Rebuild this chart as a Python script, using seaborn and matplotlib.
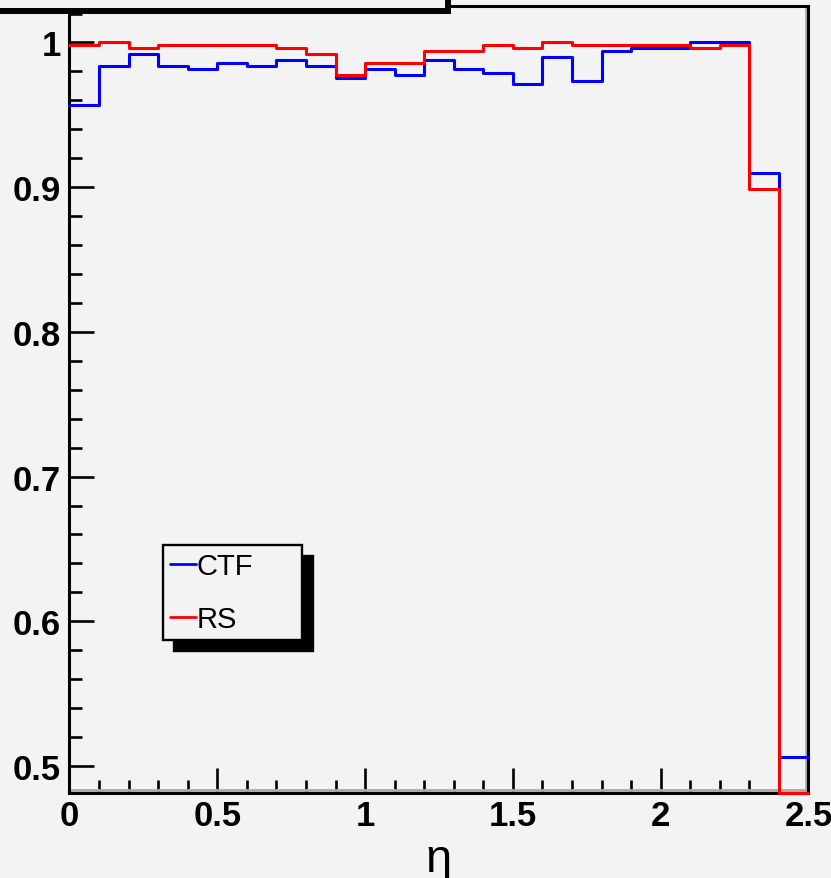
import matplotlib
matplotlib.use("Agg")
import matplotlib.pyplot as plt
import matplotlib.ticker as mticker
from matplotlib.patches import Rectangle
import numpy as np
import pandas as pd
import seaborn as sns

# efficiency vs eta, 25 bins of 0.1 from 0 to 2.5
bin_edges = [0.0, 0.1, 0.2, 0.3, 0.4, 0.5, 0.6, 0.7, 0.8, 0.9, 1.0, 1.1, 1.2,
             1.3, 1.4, 1.5, 1.6, 1.7, 1.8, 1.9, 2.0, 2.1, 2.2, 2.3, 2.4, 2.5]
ctf_eff = [0.957, 0.984, 0.992, 0.984, 0.9815, 0.9856, 0.984, 0.9877, 0.984,
           0.9753, 0.9815, 0.9773, 0.9877, 0.9815, 0.979, 0.971, 0.9898,
           0.9732, 0.994, 0.996, 0.996, 1.000, 1.000, 0.9096, 0.506]
rs_eff = [0.998, 1.000, 0.996, 0.998, 0.998, 0.998, 0.998, 0.996, 0.992,
          0.9775, 0.9856, 0.9856, 0.994, 0.994, 0.998, 0.996, 1.000, 0.998,
          0.998, 0.998, 0.998, 0.996, 0.998, 0.899, 0.0]
series_names = ["CTF", "RS"]
series_colors = {"CTF": "#0000ff", "RS": "#ff0000"}

y_min, y_max = 0.4813, 1.0249
bg = "#f3f3f3"

sns.set_style("ticks")
plt.rcParams["font.family"] = ["Liberation Sans", "DejaVu Sans"]
plt.rcParams["text.color"] = "black"
plt.rcParams["axes.labelcolor"] = "black"
plt.rcParams["xtick.labelcolor"] = "black"
plt.rcParams["ytick.labelcolor"] = "black"

# long table for seaborn, histogram edges with last value repeated (steps-post)
rows = []
for name, vals in zip(series_names, [ctf_eff, rs_eff]):
    vals_ext = list(vals) + [vals[-1]]
    for x, v in zip(bin_edges, vals_ext):
        # ROOT draws underflowing bins at the frame minimum
        rows.append({"eta": x, "eff": max(v, y_min), "series": name})
df = pd.DataFrame(rows)

fig = plt.figure(figsize=(8.31, 8.79), dpi=100, facecolor=bg)
ax = fig.add_axes([0.0836, 0.0967, 0.9729 - 0.0836, 0.9915 - 0.0967])
ax.set_facecolor(bg)

sns.lineplot(data=df, x="eta", y="eff", hue="series", palette=series_colors,
             estimator=None, drawstyle="steps-post", linewidth=2.2,
             clip_on=False, zorder=3, ax=ax)

ax.set_xlim(0, 2.5)
ax.set_ylim(y_min, y_max)

for side in ["left", "bottom", "top", "right"]:
    ax.spines[side].set_visible(True)
    ax.spines[side].set_color("black")
    ax.spines[side].set_linewidth(2.2)

# grey inner shadow of the ROOT frame
ax.plot([0, 1], [0.0038, 0.0038], transform=ax.transAxes, color="#aaaaaa",
        lw=2.0, zorder=2.4)
ax.plot([0.996, 0.996], [0, 1], transform=ax.transAxes, color="#aaaaaa",
        lw=2.0, zorder=2.4)

ax.xaxis.set_major_locator(mticker.MultipleLocator(0.5))
ax.xaxis.set_minor_locator(mticker.MultipleLocator(0.1))
ax.yaxis.set_major_locator(mticker.MultipleLocator(0.1))
ax.yaxis.set_minor_locator(mticker.MultipleLocator(0.02))
fmt = mticker.FuncFormatter(lambda v, p: "%g" % round(v, 2))
ax.xaxis.set_major_formatter(fmt)
ax.yaxis.set_major_formatter(fmt)

ax.tick_params(which="both", direction="in", width=1.9, color="black",
               labelcolor="black")
ax.tick_params(axis="x", which="major", length=18, pad=4)
ax.tick_params(axis="x", which="minor", length=9.5)
ax.tick_params(axis="y", which="major", length=18, pad=6)
ax.tick_params(axis="y", which="minor", length=9.5)
for lab in ax.get_xticklabels() + ax.get_yticklabels():
    lab.set_fontsize(25)
    lab.set_fontweight("bold")

ax.set_xlabel("η", fontsize=34, labelpad=4, color="black")
ax.set_ylabel("")

handles, labels = ax.get_legend_handles_labels()
leg = ax.legend(handles, labels, loc="upper left",
                bbox_to_anchor=(0.1265, 0.1888, 0.188, 0.1265),
                mode="expand", borderaxespad=0, fontsize=21,
                handlelength=0.9, handletextpad=0.0, borderpad=0.25,
                labelspacing=0.85, fancybox=False, framealpha=1,
                facecolor=bg, edgecolor="black", labelcolor="black",
                shadow={"facecolor": "black", "edgecolor": "black",
                        "alpha": 1, "ox": 8, "oy": -8})
leg.get_frame().set_linewidth(1.7)
for line in leg.get_lines():
    line.set_linewidth(2.0)

# title pave cut off at top of canvas
fig.add_artist(Rectangle((-0.02, 1 - 12 / 879), 448 / 831 + 0.02, 0.1,
                         transform=fig.transFigure, facecolor=bg,
                         edgecolor="black", linewidth=4.3, zorder=10))

fig.savefig("out.png", dpi=100, facecolor=bg)
